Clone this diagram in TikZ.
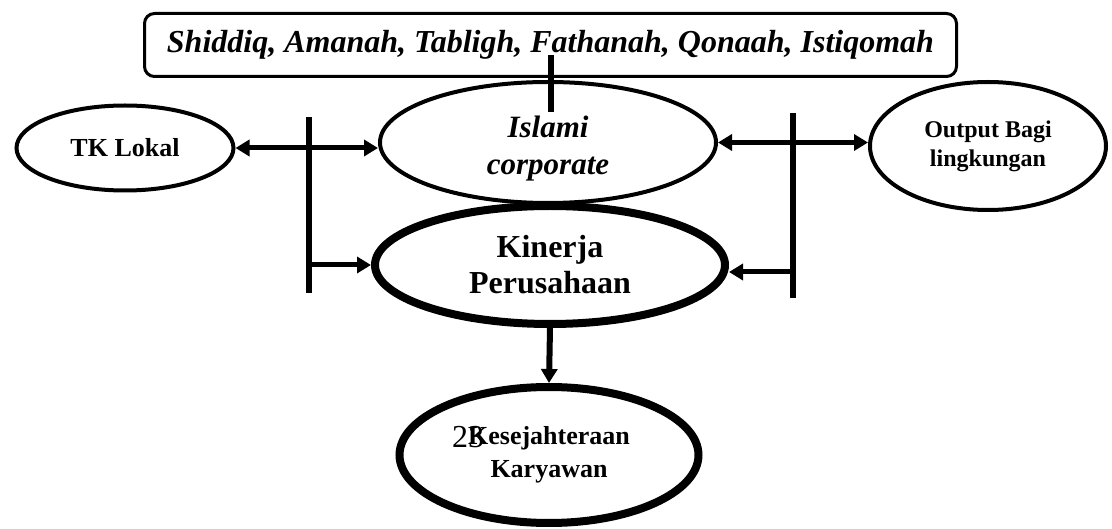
\documentclass[tikz,border=0pt]{standalone}
\usepackage{fontspec}
\setmainfont{Liberation Serif}
\usetikzlibrary{shapes.geometric, arrows.meta}

\begin{document}
\begin{tikzpicture}[
    x=1pt, y=-1pt,
    % Define styles for consistency
    oval/.style={ellipse, draw, line width=4pt, fill=white, inner sep=0pt, align=center},
    heavy_oval/.style={oval, line width=8pt},
    value_box/.style={draw, rounded corners=10pt, line width=3pt, minimum width=812pt, minimum height=63pt, inner sep=0pt, font=\fontsize{32}{36}\selectfont\bfseries\itshape},
    link/.style={line width=5pt, -{Triangle[length=14pt, width=16pt]}},
    both_link/.style={link, {Triangle[length=14pt, width=16pt]}-{Triangle[length=14pt, width=16pt]}},
    bar/.style={line width=6pt}
]
    \useasboundingbox (0,0) rectangle (1112,529);

    % ---------------------------------------------------------
    % 1. The Ovals
    % ---------------------------------------------------------
    \node[oval, minimum width=217pt, minimum height=85pt, font=\fontsize{26}{30}\selectfont\bfseries] (tk) at (125,148) {TK Lokal};
    \node[oval, minimum width=236pt, minimum height=128pt, font=\fontsize{24}{29}\selectfont\bfseries] (output) at (988,146) {Output Bagi\\lingkungan};
    \node[heavy_oval, minimum width=350pt, minimum height=118pt, font=\fontsize{32}{36}\selectfont\bfseries] (kinerja) at (550,265) {Kinerja\\Perusahaan};
    \node[oval, minimum width=336pt, minimum height=121pt, text height=70pt, font=\fontsize{31}{37}\selectfont\bfseries\itshape] (islami) at (548,142.5) {Islami\\corporate};
    \node[heavy_oval, minimum width=299pt, minimum height=136pt, font=\fontsize{26}{33}\selectfont\bfseries] (kesejahteraan) at (549,455) {Kesejahteraan\\Karyawan};

    % page number printed over the last oval
    \node[anchor=base, inner sep=0pt, font=\fontsize{32}{36}\selectfont] (page_number) at (468,448) {23};

    % ---------------------------------------------------------
    % 2. The Values Box
    % ---------------------------------------------------------
    \node[value_box] (values) at (550.5,45) {Shiddiq, Amanah, Tabligh, Fathanah, Qonaah, Istiqomah};

    % ---------------------------------------------------------
    % 3. Bars and Connectors
    % ---------------------------------------------------------
    \coordinate (left_bar_top) at (309,117);
    \coordinate (left_bar_bottom) at (309,293);
    \coordinate (right_bar_top) at (793,113);
    \coordinate (right_bar_bottom) at (793,298);
    \coordinate (right_feed) at (793,272);
    \coordinate (tie_top) at (551,55);
    \coordinate (tie_bottom) at (551,112);

    \draw[both_link] (tk.east) -- (tk.east -| islami.west);
    \draw[both_link] (islami.east) -- (islami.east -| output.west);

    \draw[bar] (left_bar_top) -- (left_bar_bottom);
    \draw[link] (kinerja.west -| left_bar_top) -- (kinerja.west);

    \draw[bar] (right_bar_top) -- (right_bar_bottom);
    \draw[link] (right_feed) -- (right_feed -| kinerja.east);

    \draw[link, line width=6pt] (kinerja.south) -- (kesejahteraan.north);

    \draw[bar] (tie_top) -- (tie_bottom);
\end{tikzpicture}
\end{document}
